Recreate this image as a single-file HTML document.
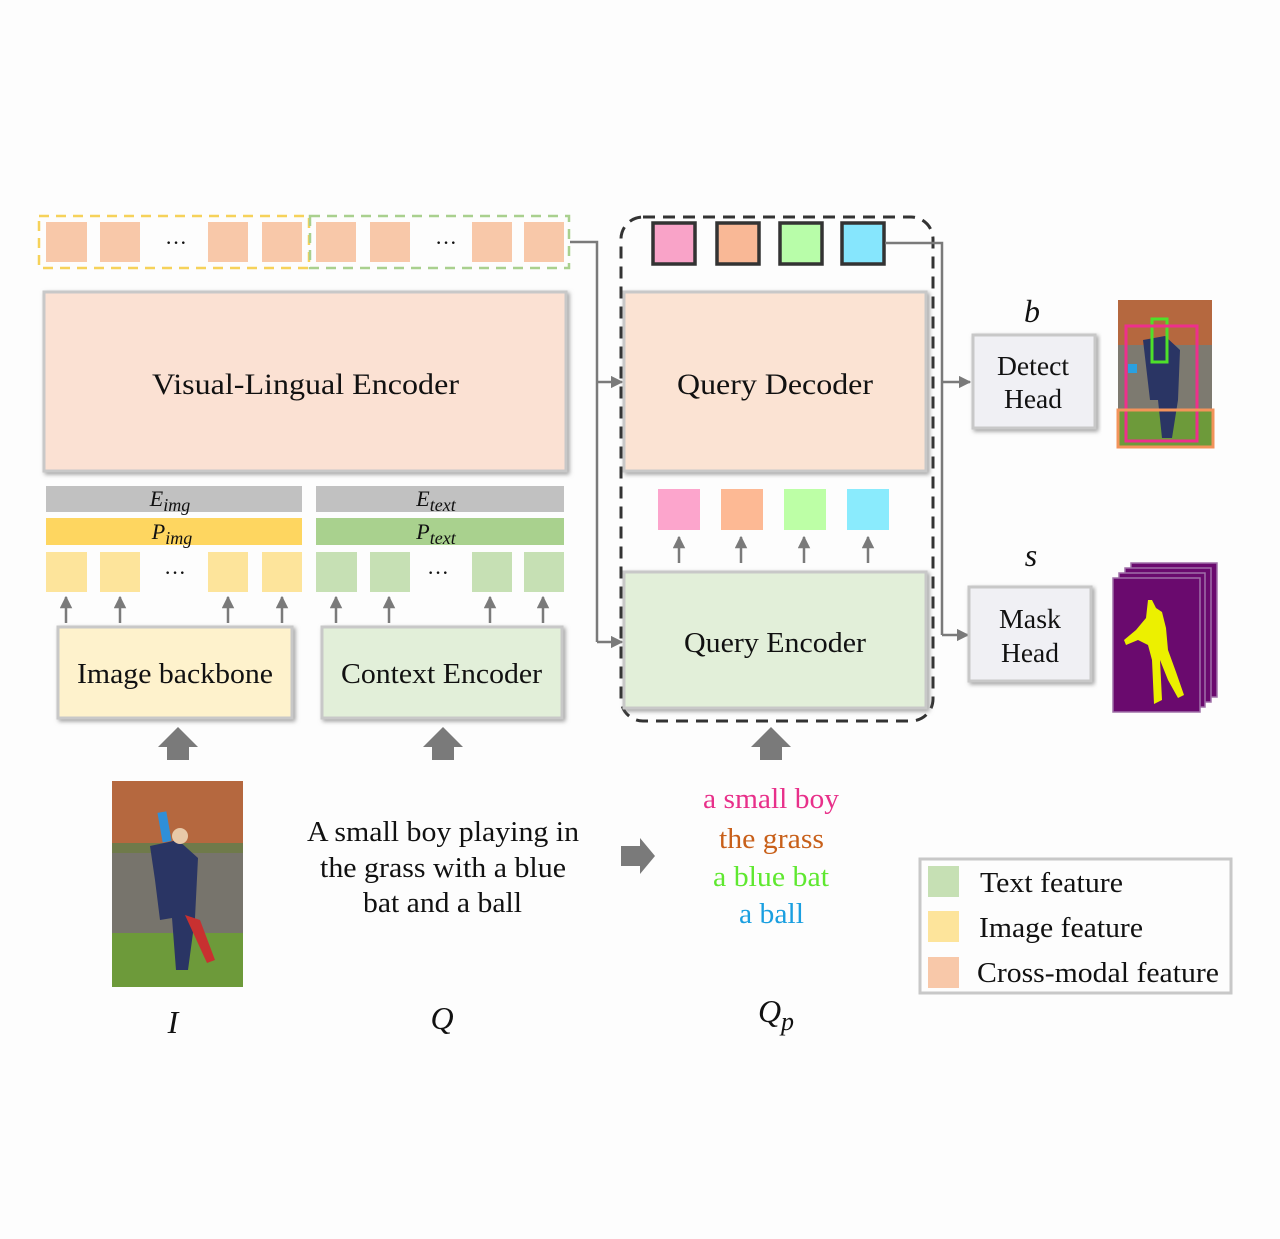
<!DOCTYPE html>
<html><head><meta charset="utf-8">
<style>
html,body{margin:0;padding:0;background:#fdfdfd;}
svg{display:block;}
text{font-family:"Liberation Serif",serif;fill:#111;}
</style></head>
<body>
<svg width="1280" height="1239" viewBox="0 0 1280 1239" xmlns="http://www.w3.org/2000/svg">
<defs>
  <filter id="sh" x="-5%" y="-5%" width="110%" height="115%"><feDropShadow dx="2" dy="2" stdDeviation="2" flood-color="#777" flood-opacity="0.7"/></filter>
  <marker id="ah" viewBox="0 0 10 10" refX="9" refY="5" markerWidth="5" markerHeight="5" orient="auto"><path d="M0,0 L10,5 L0,10z" fill="#7a7a7a"/></marker>
</defs>
<rect width="1280" height="1239" fill="#fdfdfd"/>

<g>
  <rect x="39" y="216" width="270" height="52" fill="none" stroke="#f6d25a" stroke-width="2.5" stroke-dasharray="10,7"/>
  <rect x="310" y="216" width="259" height="52" fill="none" stroke="#a9d08e" stroke-width="2.5" stroke-dasharray="10,7"/>
  <g fill="#f8c8a9">
    <rect x="46" y="222" width="41" height="40"/><rect x="100" y="222" width="40" height="40"/>
    <rect x="208" y="222" width="40" height="40"/><rect x="262" y="222" width="40" height="40"/>
    <rect x="316" y="222" width="40" height="40"/><rect x="370" y="222" width="40" height="40"/>
    <rect x="472" y="222" width="40" height="40"/><rect x="524" y="222" width="40" height="40"/>
  </g>
  <text x="176" y="250" font-size="22" text-anchor="middle">···</text>
  <text x="446" y="250" font-size="22" text-anchor="middle">···</text>
</g>

<g>
  <rect x="44" y="292" width="522" height="179" fill="#fbe1d3" stroke="#c8c8c8" stroke-width="3" filter="url(#sh)"/>
  <text x="152" y="394" font-size="30" textLength="307" lengthAdjust="spacingAndGlyphs">Visual-Lingual Encoder</text>
</g>

<g>
  <rect x="46" y="486" width="256" height="26" fill="#c1c1c1"/>
  <text x="170" y="506" font-size="22" font-style="italic" text-anchor="middle">E<tspan font-size="18" dy="5">img</tspan></text>
  <rect x="46" y="518" width="256" height="27" fill="#fed660"/>
  <text x="172" y="539" font-size="22" font-style="italic" text-anchor="middle">P<tspan font-size="18" dy="5">img</tspan></text>
  <g fill="#fde49b">
    <rect x="46" y="552" width="41" height="40"/><rect x="100" y="552" width="40" height="40"/>
    <rect x="208" y="552" width="40" height="40"/><rect x="262" y="552" width="40" height="40"/>
  </g>
  <text x="175" y="580" font-size="22" text-anchor="middle">···</text>
</g>
<g>
  <rect x="316" y="486" width="248" height="26" fill="#c1c1c1"/>
  <text x="436" y="506" font-size="22" font-style="italic" text-anchor="middle">E<tspan font-size="18" dy="5">text</tspan></text>
  <rect x="316" y="518" width="248" height="27" fill="#a9d18e"/>
  <text x="436" y="539" font-size="22" font-style="italic" text-anchor="middle">P<tspan font-size="18" dy="5">text</tspan></text>
  <g fill="#c6e0b4">
    <rect x="316" y="552" width="41" height="40"/><rect x="370" y="552" width="40" height="40"/>
    <rect x="472" y="552" width="40" height="40"/><rect x="524" y="552" width="40" height="40"/>
  </g>
  <text x="438" y="580" font-size="22" text-anchor="middle">···</text>
</g>

<g stroke="#7a7a7a" stroke-width="2.5" marker-end="url(#ah)">
  <line x1="66" y1="623" x2="66" y2="597"/><line x1="120" y1="623" x2="120" y2="597"/>
  <line x1="228" y1="623" x2="228" y2="597"/><line x1="282" y1="623" x2="282" y2="597"/>
  <line x1="336" y1="623" x2="336" y2="597"/><line x1="389" y1="623" x2="389" y2="597"/>
  <line x1="490" y1="623" x2="490" y2="597"/><line x1="543" y1="623" x2="543" y2="597"/>
  <line x1="679" y1="563" x2="679" y2="537"/><line x1="741" y1="563" x2="741" y2="537"/>
  <line x1="804" y1="563" x2="804" y2="537"/><line x1="868" y1="563" x2="868" y2="537"/>
</g>

<g>
  <rect x="58" y="627" width="234" height="91" fill="#fef2cc" stroke="#c8c8c8" stroke-width="3" filter="url(#sh)"/>
  <text x="77" y="683" font-size="28" textLength="196" lengthAdjust="spacingAndGlyphs">Image backbone</text>
</g>
<g>
  <rect x="322" y="627" width="240" height="91" fill="#e2efd9" stroke="#c8c8c8" stroke-width="3" filter="url(#sh)"/>
  <text x="341" y="683" font-size="28" textLength="201" lengthAdjust="spacingAndGlyphs">Context Encoder</text>
</g>

<g fill="#7a7a7a">
  <path d="M158,747 L178,727 L198,747 L189,747 L189,760 L167,760 L167,747z"/>
  <path d="M423,747 L443,727 L463,747 L454,747 L454,760 L432,760 L432,747z"/>
  <path d="M751,747 L771,727 L791,747 L782,747 L782,760 L760,760 L760,747z"/>
  <path d="M621,846 L640,846 L640,838 L655,856 L640,874 L640,866 L621,866z"/>
</g>

<g>
  <rect x="112" y="781" width="131" height="206" fill="#8a8a80"/>
  <rect x="112" y="781" width="131" height="62" fill="#b5683f"/>
  <rect x="112" y="843" width="131" height="10" fill="#6f7a4a"/>
  <rect x="112" y="853" width="131" height="80" fill="#77746c"/>
  <rect x="112" y="933" width="131" height="54" fill="#6d9a3a"/>
  <rect x="160" y="812" width="9" height="30" fill="#2f8fd8" transform="rotate(-10 164 827)"/>
  <path d="M150,846 L178,840 L198,858 L195,918 L188,970 L176,970 L172,918 L160,920 L155,880z" fill="#2a3564"/>
  <path d="M185,915 L200,920 L215,960 L207,963z" fill="#c83030"/>
  <circle cx="180" cy="836" r="8" fill="#e8c9a8"/>
</g>

<g font-size="28">
  <text x="307" y="841" textLength="272" lengthAdjust="spacingAndGlyphs">A small boy playing in</text>
  <text x="320" y="877" textLength="246" lengthAdjust="spacingAndGlyphs">the grass with a blue</text>
  <text x="363" y="912" textLength="159" lengthAdjust="spacingAndGlyphs">bat and a ball</text>
</g>
<g font-size="28">
  <text x="703" y="808" textLength="136" lengthAdjust="spacingAndGlyphs" style="fill:#e8308a">a small boy</text>
  <text x="719" y="848" textLength="105" lengthAdjust="spacingAndGlyphs" style="fill:#c8601a">the grass</text>
  <text x="713" y="886" textLength="116" lengthAdjust="spacingAndGlyphs" style="fill:#5fe830">a blue bat</text>
  <text x="739" y="923" textLength="65" lengthAdjust="spacingAndGlyphs" style="fill:#1a9fe0">a ball</text>
</g>
<text x="173" y="1033" font-size="32" font-style="italic" text-anchor="middle">I</text>
<text x="442" y="1029" font-size="32" font-style="italic" text-anchor="middle">Q</text>
<text x="776" y="1022" font-size="32" font-style="italic" text-anchor="middle">Q<tspan font-size="26" dy="8">p</tspan></text>

<rect x="621" y="217" width="312" height="504" rx="22" fill="none" stroke="#333" stroke-width="3" stroke-dasharray="12,8"/>
<g stroke="#333" stroke-width="3.5">
  <rect x="653" y="223" width="42" height="41" fill="#f9a3c8"/>
  <rect x="717" y="223" width="42" height="41" fill="#f9b896"/>
  <rect x="780" y="223" width="42" height="41" fill="#b8fda9"/>
  <rect x="842" y="223" width="42" height="41" fill="#86e6fd"/>
</g>
<g>
  <rect x="624" y="292" width="302" height="179" fill="#fbe3d3" stroke="#c8c8c8" stroke-width="3" filter="url(#sh)"/>
  <text x="677" y="394" font-size="30" textLength="196" lengthAdjust="spacingAndGlyphs">Query Decoder</text>
</g>
<g>
  <rect x="658" y="489" width="42" height="41" fill="#fca5cc"/>
  <rect x="721" y="489" width="42" height="41" fill="#fdb994"/>
  <rect x="784" y="489" width="42" height="41" fill="#bdffa6"/>
  <rect x="847" y="489" width="42" height="41" fill="#8aebfd"/>
</g>
<g>
  <rect x="624" y="572" width="302" height="136" fill="#e2efd9" stroke="#c8c8c8" stroke-width="3" filter="url(#sh)"/>
  <text x="684" y="652" font-size="28" textLength="182" lengthAdjust="spacingAndGlyphs">Query Encoder</text>
</g>

<g fill="none" stroke="#7a7a7a" stroke-width="2.5">
  <polyline points="570,242 597,242 597,642"/>
  <line x1="597" y1="382" x2="622" y2="382" marker-end="url(#ah)"/>
  <line x1="597" y1="642" x2="622" y2="642" marker-end="url(#ah)"/>
  <polyline points="885,243 942,243 942,635"/>
  <line x1="942" y1="382" x2="970" y2="382" marker-end="url(#ah)"/>
  <line x1="942" y1="635" x2="968" y2="635" marker-end="url(#ah)"/>
</g>

<text x="1032" y="322" font-size="32" font-style="italic" text-anchor="middle">b</text>
<g>
  <rect x="973" y="335" width="122" height="93" fill="#f0f0f4" stroke="#c8c8c8" stroke-width="3" filter="url(#sh)"/>
  <text x="997" y="375" font-size="27" textLength="72" lengthAdjust="spacingAndGlyphs">Detect</text>
  <text x="1004" y="408" font-size="27" textLength="58" lengthAdjust="spacingAndGlyphs">Head</text>
</g>
<text x="1031" y="566" font-size="32" font-style="italic" text-anchor="middle">s</text>
<g>
  <rect x="969" y="587" width="122" height="94" fill="#f0f0f4" stroke="#c8c8c8" stroke-width="3" filter="url(#sh)"/>
  <text x="999" y="628" font-size="27" textLength="62" lengthAdjust="spacingAndGlyphs">Mask</text>
  <text x="1001" y="662" font-size="27" textLength="58" lengthAdjust="spacingAndGlyphs">Head</text>
</g>

<g>
  <rect x="1118" y="300" width="94" height="148" fill="#7d7a70"/>
  <rect x="1118" y="300" width="94" height="45" fill="#b5683f"/>
  <rect x="1118" y="410" width="94" height="38" fill="#6d9a3a"/>
  <path d="M1143,340 L1165,336 L1180,350 L1178,400 L1172,438 L1162,438 L1158,400 L1150,400z" fill="#2a3564"/>
  <rect x="1152" y="319" width="15" height="43" fill="none" stroke="#4ee02a" stroke-width="3"/>
  <rect x="1126" y="326" width="71" height="115" fill="none" stroke="#ee2f8c" stroke-width="3"/>
  <rect x="1118" y="410" width="95" height="37" fill="none" stroke="#f3935a" stroke-width="3"/>
  <rect x="1128" y="364" width="9" height="9" fill="#2aa0e0"/>
</g>

<g fill="#6a0a6e" stroke="#a070a8" stroke-width="1.5">
  <rect x="1131" y="563" width="86" height="134"/>
  <rect x="1125" y="568" width="86" height="134"/>
  <rect x="1119" y="573" width="86" height="134"/>
  <rect x="1113" y="578" width="87" height="134"/>
  <path d="M1148,600 L1152,600 L1156,608 L1162,612 L1166,628 L1168,650 L1176,672 L1184,695 L1178,698 L1168,680 L1160,660 L1162,700 L1154,704 L1152,660 L1148,645 L1138,640 L1126,645 L1124,640 L1136,630 L1146,618z" fill="#ecf000" stroke="none"/>
</g>

<g>
  <rect x="920" y="859" width="311" height="134" fill="#fdfdfd" stroke="#c8c8c8" stroke-width="3"/>
  <rect x="928" y="866" width="31" height="31" fill="#c6e0b4"/>
  <text x="980" y="892" font-size="28" textLength="143" lengthAdjust="spacingAndGlyphs">Text feature</text>
  <rect x="928" y="911" width="31" height="31" fill="#fde49b"/>
  <text x="979" y="937" font-size="28" textLength="164" lengthAdjust="spacingAndGlyphs">Image feature</text>
  <rect x="928" y="957" width="31" height="31" fill="#f8c8a9"/>
  <text x="977" y="982" font-size="28" textLength="242" lengthAdjust="spacingAndGlyphs">Cross-modal feature</text>
</g>
</svg>
</body></html>
